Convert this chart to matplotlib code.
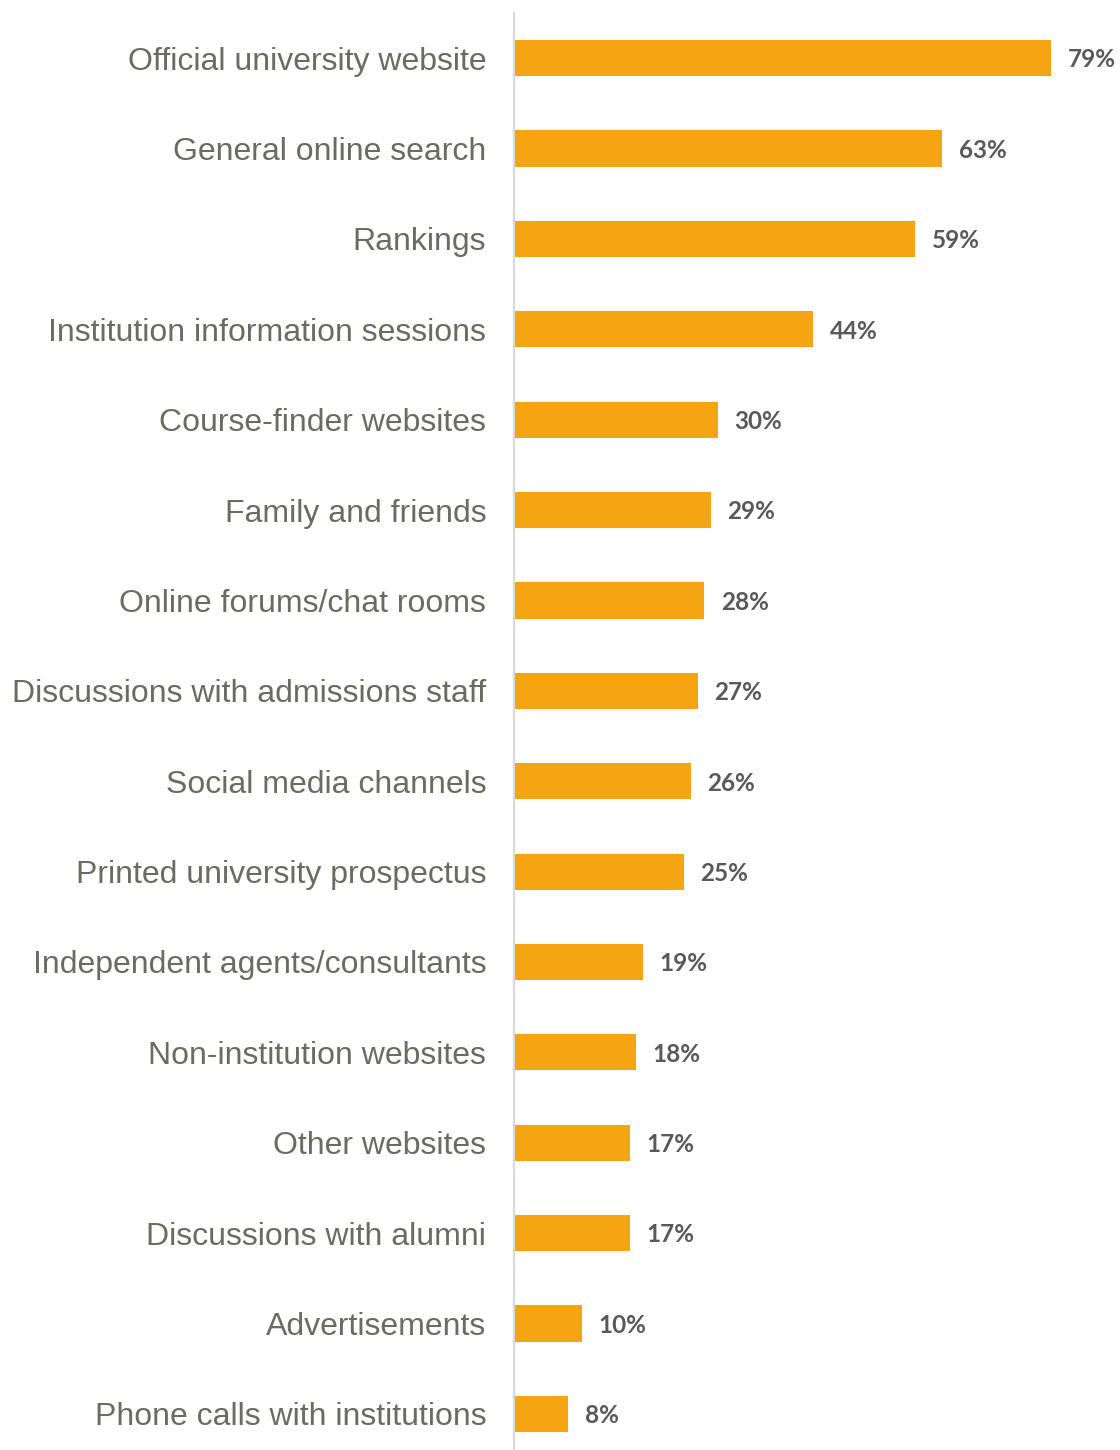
import matplotlib.pyplot as plt

categories = [
    "Official university website",
    "General online search",
    "Rankings",
    "Institution information sessions",
    "Course-finder websites",
    "Family and friends",
    "Online forums/chat rooms",
    "Discussions with admissions staff",
    "Social media channels",
    "Printed university prospectus",
    "Independent agents/consultants",
    "Non-institution websites",
    "Other websites",
    "Discussions with alumni",
    "Advertisements",
    "Phone calls with institutions",
]
values = [79, 63, 59, 44, 30, 29, 28, 27, 26, 25, 19, 18, 17, 17, 10, 8]

bar_color = "#F5A511"
label_color = "#6B6B63"
value_color = "#595959"

fig = plt.figure(figsize=(11.2, 14.5), dpi=100)
ax = fig.add_axes([514 / 1120, 0.0, 1 - 514 / 1120, 1 - 13 / 1450])

y = list(range(len(categories)))
ax.barh(y, values, height=0.4, color=bar_color)

ax.set_xlim(0, (1120 - 514) / 6.8)
ax.set_ylim(15.4, -0.5)

for yi, v in zip(y, values):
    ax.text(v + 2.4, yi + 0.02, f"{v}%", va="center", ha="left",
            fontsize=17.5, fontweight="bold", color=value_color,
            family=["Lato", "DejaVu Sans"])

ax.set_yticks(y)
ax.set_yticklabels(categories, fontsize=23, color=label_color,
                   family=["Liberation Sans", "DejaVu Sans"])
ax.tick_params(axis="y", length=0, pad=20)
ax.set_xticks([])

for s in ["top", "right", "bottom"]:
    ax.spines[s].set_visible(False)
ax.spines["left"].set_color("#D9D9D9")
ax.spines["left"].set_linewidth(1.5)

fig.savefig("out.png", dpi=100)
